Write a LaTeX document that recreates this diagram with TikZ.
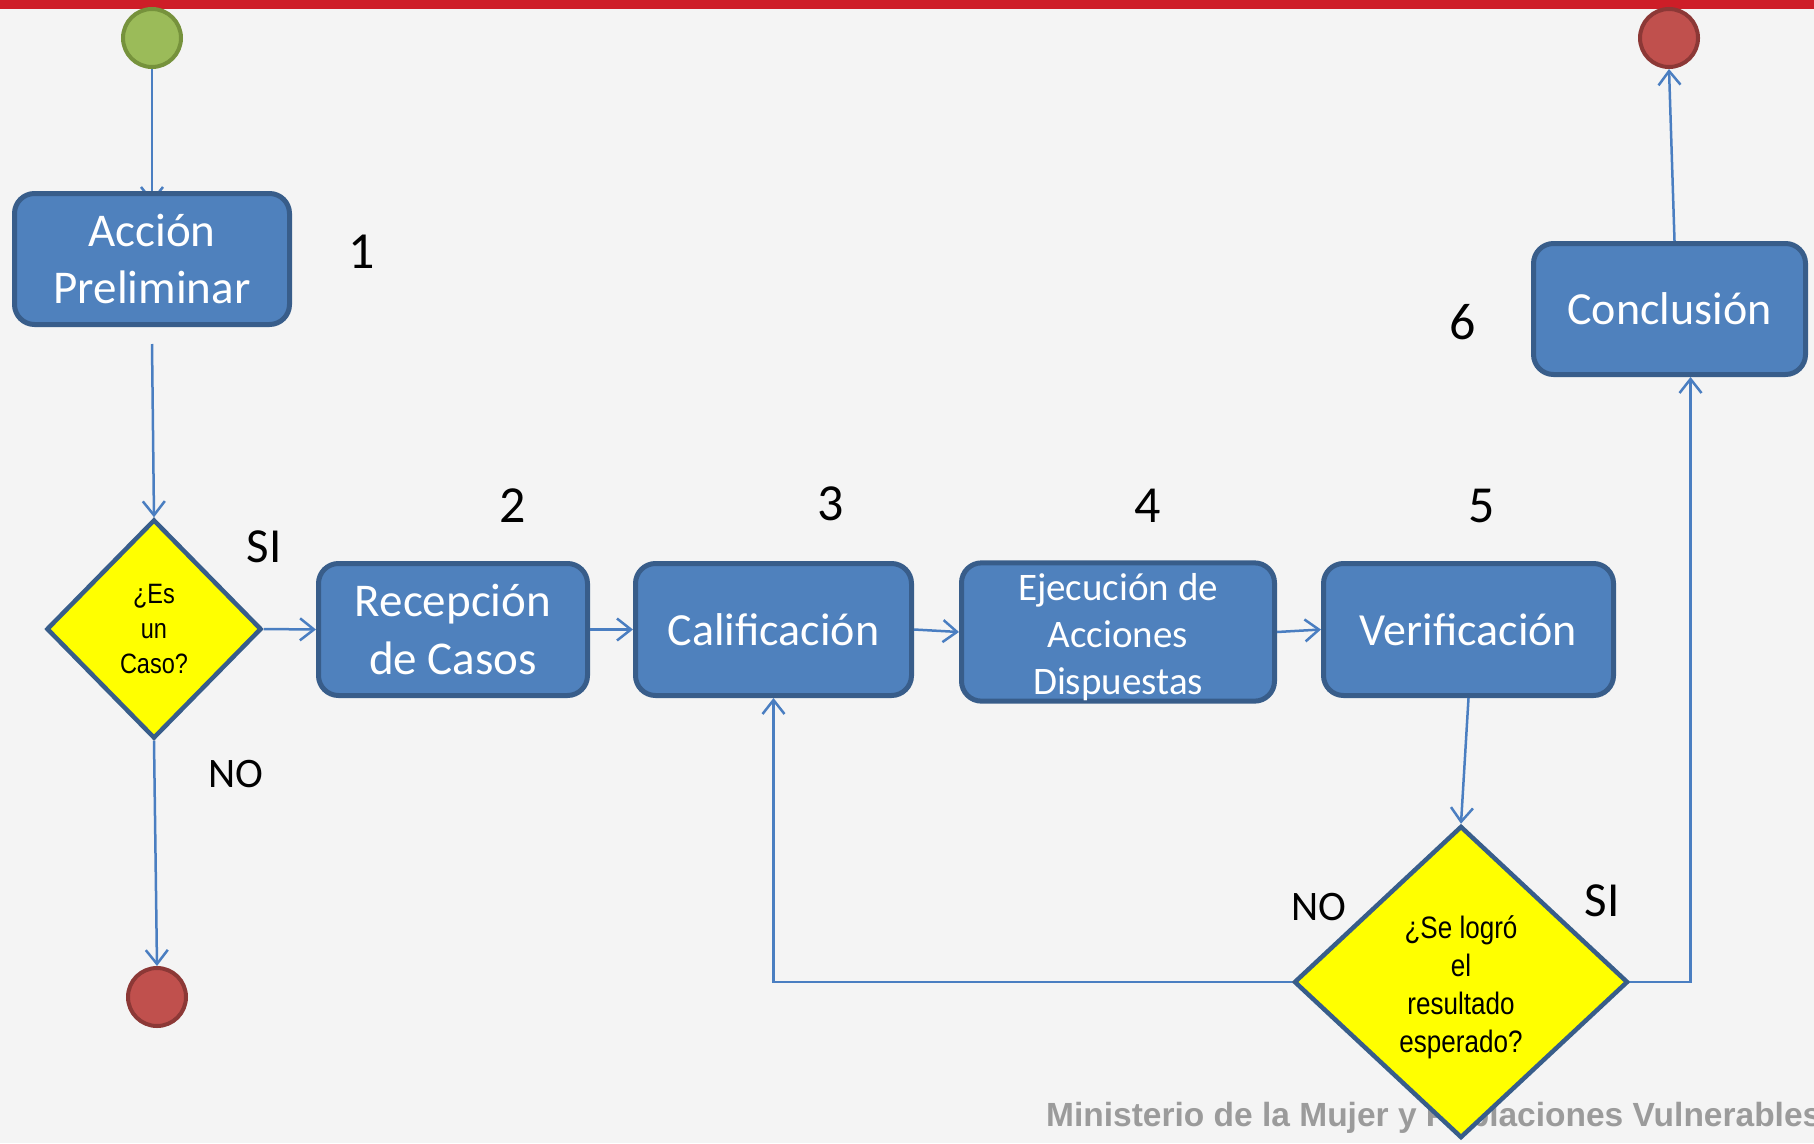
\documentclass[tikz,border=0pt]{standalone}
\usepackage{fontspec}
\setmainfont{Carlito}
\newfontfamily\narrowfont[FakeStretch=0.84]{Liberation Sans}
\newfontfamily\footfont{Liberation Sans}
\usetikzlibrary{shapes.geometric,arrows.meta,calc}
\pgfdeclarelayer{back}
\pgfdeclarelayer{bg}
\pgfsetlayers{back,bg,main}
\definecolor{boxfill}{RGB}{79,129,189}
\definecolor{boxline}{RGB}{56,93,138}
\definecolor{conn}{RGB}{74,126,193}
\definecolor{ygold}{RGB}{255,255,0}
\definecolor{gfill}{RGB}{155,187,89}
\definecolor{gline}{RGB}{118,146,60}
\definecolor{rfill}{RGB}{192,80,77}
\definecolor{rline}{RGB}{140,56,54}
\definecolor{bgc}{RGB}{244,244,244}
\definecolor{band}{RGB}{206,30,40}
\definecolor{foot}{RGB}{155,155,155}
\begin{document}
\begin{tikzpicture}[x=1pt,y=-1pt,
  stepbox/.style={draw=boxline, fill=boxfill, line width=5pt, rounded corners=20pt, text=white, align=center, inner sep=0pt},
  decision/.style={diamond, draw=boxline, fill=ygold, line width=4.5pt, inner sep=0pt, align=center, font=\narrowfont\fontsize{28}{35}\selectfont},
  startnode/.style={circle, draw=gline, fill=gfill, line width=4pt, minimum size=58pt, inner sep=0pt},
  endnode/.style={circle, draw=rline, fill=rfill, line width=4pt, minimum size=58pt, inner sep=0pt},
  flow/.style={draw=conn, line width=2.5pt, -{Straight Barb[length=14pt,width=22pt,line width=2.5pt]}},
  num/.style={font=\fontsize{52}{60}\selectfont, text=black, inner sep=0pt},
  yesno/.style={text=black, inner sep=0pt}]
\useasboundingbox (0,0) rectangle (1814,1143);
\clip (0,0) rectangle (1814,1143);
\begin{pgfonlayer}{back}
\fill[bgc] (0,0) rectangle (1814,1143);
\fill[band] (0,0) rectangle (1814,9);
\end{pgfonlayer}

\node[anchor=base west, text=foot, font=\footfont\bfseries\fontsize{33.5}{40}\selectfont, inner sep=0pt] (ft) at (1046,1126) {Ministerio de la Mujer y Poblaciones Vulnerables};

\node[startnode] (G) at (152,38) {};
\node[stepbox, minimum width=275pt, minimum height=131pt, font=\fontsize{47}{57}\selectfont] (A) at (152,259) {Acción\\Preliminar};
\node[decision, minimum width=215pt, minimum height=219pt] (D1) at (154,629) {¿Es\\un\\Caso?};
\node[endnode] (X1) at (157,997) {};
\node[stepbox, minimum width=269pt, minimum height=132pt, font=\fontsize{47}{58}\selectfont] (R) at (453,629.5) {Recepción\\de Casos};
\node[stepbox, minimum width=276pt, minimum height=132pt, font=\fontsize{46}{56}\selectfont] (C) at (773.5,629.5) {Calificación};
\node[stepbox, minimum width=313pt, minimum height=133pt, font=\fontsize{39}{47}\selectfont] (E) at (1118,632) {\rule{0pt}{38pt}Ejecución de\\Acciones\\Dispuestas};
\node[stepbox, minimum width=290pt, minimum height=132pt, font=\fontsize{46}{56}\selectfont] (V) at (1468.5,629.5) {Verificación};
\node[decision, minimum width=334pt, minimum height=312pt, font=\narrowfont\fontsize{31}{38}\selectfont] (D2) at (1461,982) {\rule{0pt}{34pt}¿Se logró\\el\\resultado\\esperado?};
\node[stepbox, minimum width=272pt, minimum height=131pt, font=\fontsize{46}{56}\selectfont] (K) at (1669.5,309) {Conclusión};
\node[endnode] (X2) at (1669,38) {};

\node[num] (n1) at (362,252) {1};
\node[num] (n2) at (513,506) {2};
\node[num] (n3) at (831,504) {3};
\node[num] (n4) at (1148,506) {4};
\node[num] (n5) at (1482,506) {5};
\node[num] (n6) at (1463,322) {6};

\node[yesno, font=\fontsize{49}{56}\selectfont] (si1) at (264,547) {SI};
\node[yesno, font=\fontsize{42}{50}\selectfont] (no1) at (236,774) {NO};
\node[yesno, font=\fontsize{42}{50}\selectfont] (no2) at (1319,907) {NO};
\node[yesno, font=\fontsize{49}{56}\selectfont] (si2) at (1602,901) {SI};

\begin{pgfonlayer}{bg}
\draw[flow] (G.south) -- ($(A.north)+(0,12)$);
\end{pgfonlayer}
\draw[flow] ($(A.south)+(0,17)$) -- (D1.north);
\draw[flow] (D1.east) -- (R.west);
\draw[flow] (D1.south) -- (X1.north);
\draw[flow] (R.east) -- (C.west);
\draw[flow] (C.east) -- (E.west);
\draw[flow] (E.east) -- (V.west);
\draw[flow] (V.south) -- (D2.north);
\draw[flow] (D2.west) -| (C.south);
\draw[flow] (D2.east) -| ([xshift=21pt]K.south);
\draw[flow] ([xshift=5pt]K.north) -- (X2.south);
\end{tikzpicture}
\end{document}
